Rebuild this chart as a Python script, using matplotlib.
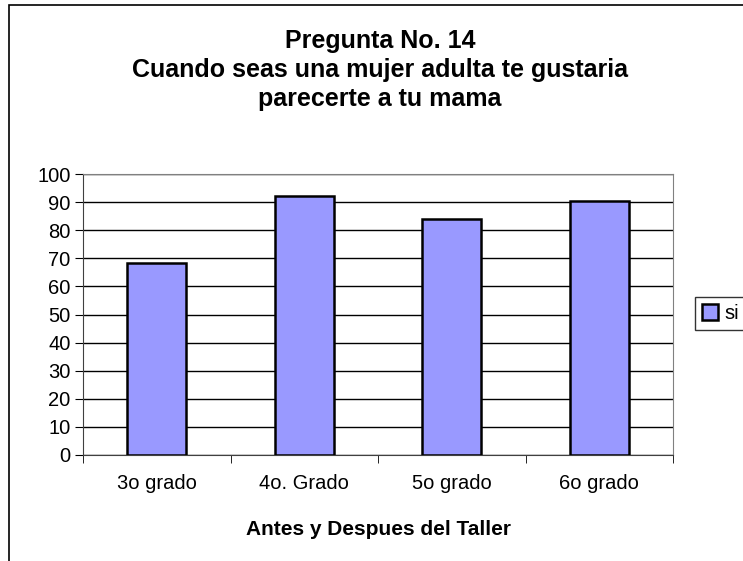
import matplotlib
matplotlib.use("Agg")
from matplotlib import pyplot as plt
from matplotlib.patches import Rectangle

# data
categories = ['3o grado', '4o. Grado', '5o grado', '6o grado']
si_values = [68.3, 92.2, 84.0, 90.5]
y_ticks = [0, 10, 20, 30, 40, 50, 60, 70, 80, 90, 100]

plt.rcParams['font.family'] = ['Liberation Sans', 'DejaVu Sans']

fig = plt.figure(figsize=(7.43, 5.61), dpi=100)
ax = fig.add_axes([83 / 743, 1 - 455 / 561, 590 / 743, 281 / 561])

x = list(range(len(categories)))
ax.bar(x, si_values, width=0.4, color='#9999FF', edgecolor='black',
       linewidth=1.8, label='si', zorder=3)

ax.set_xlim(-0.5, len(categories) - 0.5)
ax.set_ylim(0, 100)
ax.set_yticks(y_ticks)
ax.yaxis.grid(True, color='black', linewidth=1.0, zorder=0)
ax.set_axisbelow(True)

ax.set_xticks(x)
ax.set_xticklabels(categories, fontsize=14.5)
ax.set_xticks([i - 0.5 for i in range(len(categories) + 1)], minor=True)
ax.tick_params(axis='x', which='major', length=0, pad=14)
ax.tick_params(axis='x', which='minor', length=6, direction='out',
               color='black')
ax.tick_params(axis='y', length=6, direction='out', labelsize=14.5, pad=3)

for side in ['top', 'right']:
    ax.spines[side].set_color('#808080')
ax.spines['left'].set_color('#404040')
ax.spines['bottom'].set_color('#404040')

ax.set_xlabel('Antes y Despues del Taller', fontsize=15, fontweight='bold',
              labelpad=19)

fig.text(380 / 743, 1 - 70 / 561,
         'Pregunta No. 14\nCuando seas una mujer adulta te gustaria\n'
         'parecerte a tu mama',
         ha='center', va='center', fontsize=18, fontweight='bold',
         linespacing=1.27)

leg = fig.legend(loc='upper left', bbox_to_anchor=(695 / 743, 1 - 297 / 561),
                 fontsize=14.5, frameon=True, fancybox=False, handlelength=0.8,
                 handleheight=0.8, handletextpad=0.3, borderpad=0.35,
                 borderaxespad=0)
leg.get_frame().set_edgecolor('black')
leg.get_frame().set_linewidth(1.0)

# outer chart border, cut off at the right and bottom like the reference
fig.patches.append(Rectangle((9 / 743, -0.1), 1.2, 1.1 - 5 / 561,
                             transform=fig.transFigure, fill=False,
                             edgecolor='black', linewidth=1.2,
                             clip_on=False))

fig.savefig('out.png', dpi=100)
